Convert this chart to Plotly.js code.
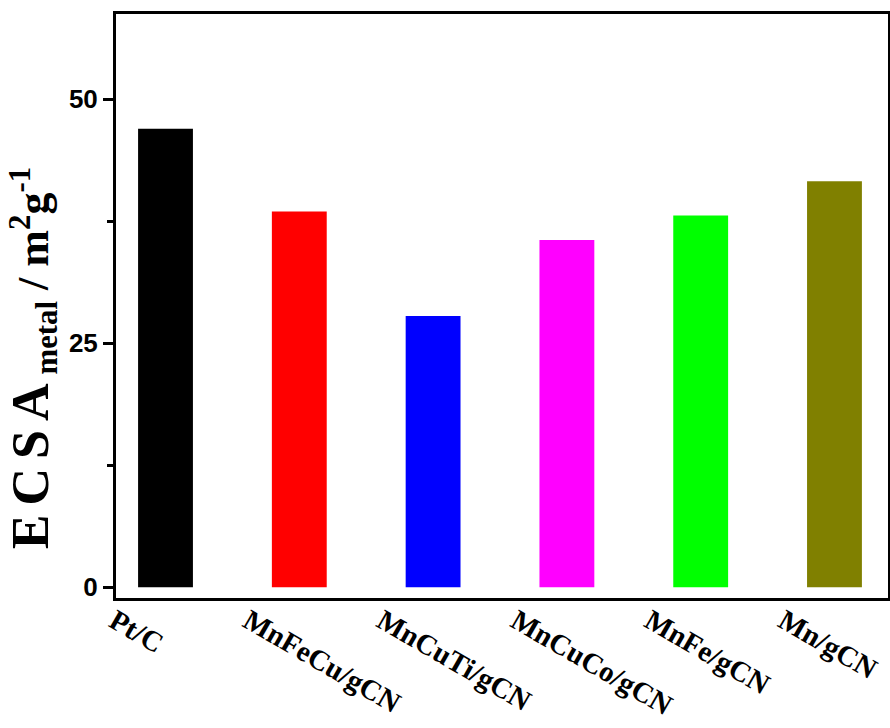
<!DOCTYPE html>
<html>
<head>
<meta charset="utf-8">
<script src="https://cdn.plot.ly/plotly-3.0.1.min.js"></script>
<style>html,body{margin:0;padding:0;background:#fff;}</style>
</head>
<body>
<div id="chart" style="width:890px;height:728px;"></div>
<script>
const categories = ["Pt/C", "MnFeCu/gCN", "MnCuTi/gCN", "MnCuCo/gCN", "MnFe/gCN", "Mn/gCN"];
const ecsaValues = [47.0, 38.5, 27.8, 35.6, 38.1, 41.6];
const barColors = ["#000000", "#FF0000", "#0000FF", "#FF00FF", "#00FF00", "#808000"];
const yTickValues = [0, 25, 50];
const yTickLabels = ["0", "25", "50"];

const idx = categories.map((c, i) => i);

const trace = {
  type: "bar",
  x: idx,
  y: ecsaValues,
  width: 0.41,
  marker: { color: barColors, line: { width: 0 } },
  hoverinfo: "x+y"
};

const yTitle = {
  x: -0.108, xref: "paper", y: 0.41, yref: "paper",
  text: "<span style=\"font-size:52px;letter-spacing:9px\">ECSA</span><sub>metal</sub> / m<sup>2</sup>g<sup>-1</sup>",
  showarrow: false, textangle: -90,
  xanchor: "center", yanchor: "middle",
  font: { family: "Liberation Serif, Times New Roman, serif", size: 44, color: "#000", weight: 700 }
};

const layout = {
  width: 890, height: 728,
  margin: { l: 116, r: 2, t: 14, b: 130 },
  paper_bgcolor: "#fff", plot_bgcolor: "#fff",
  showlegend: false,
  xaxis: {
    range: [-0.37, 5.40],
    tickvals: idx, ticktext: categories,
    tickangle: 30, ticks: "",
    ticklabelshift: -51, ticklabelstandoff: -8,
    ticklabeloverflow: "allow",
    tickfont: { family: "Liberation Serif, Times New Roman, serif", size: 29, color: "#000", weight: 700 },
    showgrid: false, zeroline: false,
    showline: true, linecolor: "#000", linewidth: 3, mirror: true
  },
  yaxis: {
    range: [-1.1, 58.75],
    tickvals: yTickValues, ticktext: yTickLabels,
    ticks: "outside", ticklen: 10, tickwidth: 2.5, tickcolor: "#000",
    minor: { dtick: 12.5, ticks: "outside", ticklen: 6, tickwidth: 2.5, tickcolor: "#000", showgrid: false },
    tickfont: { family: "Liberation Sans, Arial, sans-serif", size: 26, color: "#000", weight: 700 },
    showgrid: false, zeroline: false,
    showline: true, linecolor: "#000", linewidth: 3, mirror: true
  },
  annotations: [yTitle]
};

Plotly.newPlot("chart", [trace], layout, { displayModeBar: false, staticPlot: true });
</script>
</body>
</html>
